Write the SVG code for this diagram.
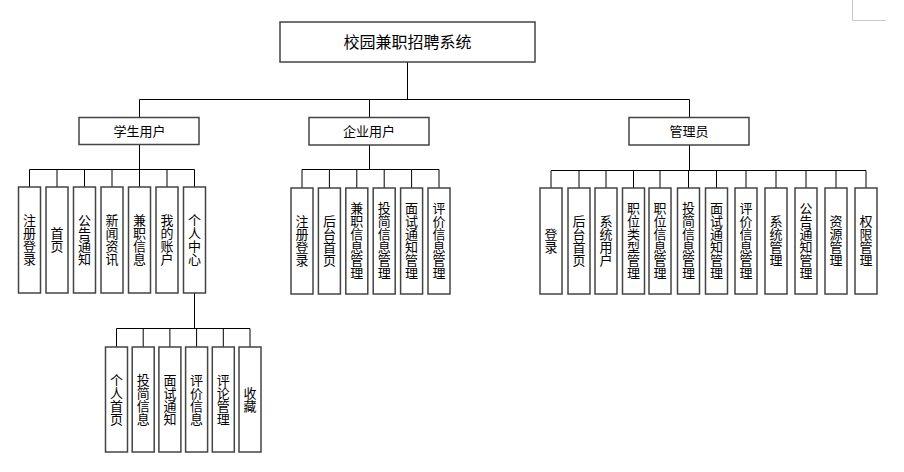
<svg xmlns="http://www.w3.org/2000/svg" width="904" height="472" viewBox="0 0 904 472">
<style>
.box{fill:#fff;stroke:#444;stroke-width:1.5}
.ln{fill:none;stroke:#000;stroke-width:1}
text{font-family:"Noto Sans CJK SC","Liberation Sans",sans-serif;fill:#000;text-anchor:middle}
.t{font-size:13px}
.v{font-size:13px;writing-mode:vertical-rl;text-orientation:upright}
.r{font-size:16px}
</style>
<rect width="904" height="472" fill="#fff"/>
<path d="M852.5 0V20.5H886" fill="none" stroke="#c8c8c8" stroke-width="1"/>
<g id="connectors" class="ln">
<path d="M407.5 62V99.5M139.5 99.5H689.5M139.5 99.5V117M369.5 99.5V117M689.5 99.5V117"/>
<path d="M139.5 144V169.5M29.5 169.5H194.5M29.5 169.5V187M57 169.5V187M84.5 169.5V187M112 169.5V187M139.5 169.5V187M167 169.5V187M194.5 169.5V187"/>
<path d="M194.5 293V328.5M116.5 328.5H250M116.5 328.5V347M143.2 328.5V347M169.9 328.5V347M196.6 328.5V347M223.3 328.5V347M250 328.5V347"/>
<path d="M369.5 145V169.5M302 169.5H439M302 169.5V188M329.4 169.5V188M356.8 169.5V188M384.2 169.5V188M411.6 169.5V188M439 169.5V188"/>
<path d="M689.5 145V170.5M551 170.5H866M551 170.5V188M579 170.5V188M606 170.5V188M633.5 170.5V188M660 170.5V188M688.5 170.5V188M716.5 170.5V188M746 170.5V188M776 170.5V188M806 170.5V188M836 170.5V188M866 170.5V188"/>
</g>
<g id="root"><rect class="box" x="280" y="22" width="255" height="40"/><text class="r" x="407.5" y="48">校园兼职招聘系统</text></g>
<g id="student"><rect class="box" x="79" y="117.5" width="120" height="27"/><text class="t" x="139.5" y="135.5">学生用户</text></g>
<g id="company"><rect class="box" x="309" y="117.5" width="120" height="27.5"/><text class="t" x="369" y="135.5">企业用户</text></g>
<g id="admin"><rect class="box" x="629" y="117.5" width="120" height="27.5"/><text class="t" x="689" y="135.5">管理员</text></g>

<g id="s1"><rect class="box" x="18.5" y="187" width="22" height="106"/><text class="v" x="29.5" y="240">注册登录</text></g>
<g id="s2"><rect class="box" x="46" y="187" width="22" height="106"/><text class="v" x="57" y="240">首页</text></g>
<g id="s3"><rect class="box" x="73.5" y="187" width="22" height="106"/><text class="v" x="84.5" y="240">公告通知</text></g>
<g id="s4"><rect class="box" x="101" y="187" width="22" height="106"/><text class="v" x="112" y="240">新闻资讯</text></g>
<g id="s5"><rect class="box" x="128.5" y="187" width="22" height="106"/><text class="v" x="139.5" y="240">兼职信息</text></g>
<g id="s6"><rect class="box" x="156" y="187" width="22" height="106"/><text class="v" x="167" y="240">我的账户</text></g>
<g id="s7"><rect class="box" x="183.5" y="187" width="22" height="106"/><text class="v" x="194.5" y="240">个人中心</text></g>

<g id="p1"><rect class="box" x="105.5" y="347" width="22" height="105"/><text class="v" x="116.5" y="399.5">个人首页</text></g>
<g id="p2"><rect class="box" x="132.2" y="347" width="22" height="105"/><text class="v" x="143.2" y="399.5">投简信息</text></g>
<g id="p3"><rect class="box" x="158.9" y="347" width="22" height="105"/><text class="v" x="169.9" y="399.5">面试通知</text></g>
<g id="p4"><rect class="box" x="185.6" y="347" width="22" height="105"/><text class="v" x="196.6" y="399.5">评价信息</text></g>
<g id="p5"><rect class="box" x="212.3" y="347" width="22" height="105"/><text class="v" x="223.3" y="399.5">评论管理</text></g>
<g id="p6"><rect class="box" x="239" y="347" width="22" height="105"/><text class="v" x="250" y="399.5">收藏</text></g>

<g id="c1"><rect class="box" x="291" y="188" width="22" height="106"/><text class="v" x="302" y="241">注册登录</text></g>
<g id="c2"><rect class="box" x="318.4" y="188" width="22" height="106"/><text class="v" x="329.4" y="241">后台首页</text></g>
<g id="c3"><rect class="box" x="345.8" y="188" width="22" height="106"/><text class="v" x="356.8" y="241">兼职信息管理</text></g>
<g id="c4"><rect class="box" x="373.2" y="188" width="22" height="106"/><text class="v" x="384.2" y="241">投简信息管理</text></g>
<g id="c5"><rect class="box" x="400.6" y="188" width="22" height="106"/><text class="v" x="411.6" y="241">面试通知管理</text></g>
<g id="c6"><rect class="box" x="428" y="188" width="22" height="106"/><text class="v" x="439" y="241">评价信息管理</text></g>

<g id="a1"><rect class="box" x="540" y="188" width="22" height="106"/><text class="v" x="551" y="241">登录</text></g>
<g id="a2"><rect class="box" x="568" y="188" width="22" height="106"/><text class="v" x="579" y="241">后台首页</text></g>
<g id="a3"><rect class="box" x="595" y="188" width="22" height="106"/><text class="v" x="606" y="241">系统用户</text></g>
<g id="a4"><rect class="box" x="622.5" y="188" width="22" height="106"/><text class="v" x="633.5" y="241">职位类型管理</text></g>
<g id="a5"><rect class="box" x="649" y="188" width="22" height="106"/><text class="v" x="660" y="241">职位信息管理</text></g>
<g id="a6"><rect class="box" x="677.5" y="188" width="22" height="106"/><text class="v" x="688.5" y="241">投简信息管理</text></g>
<g id="a7"><rect class="box" x="705.5" y="188" width="22" height="106"/><text class="v" x="716.5" y="241">面试通知管理</text></g>
<g id="a8"><rect class="box" x="735" y="188" width="22" height="106"/><text class="v" x="746" y="241">评价信息管理</text></g>
<g id="a9"><rect class="box" x="765" y="188" width="22" height="106"/><text class="v" x="776" y="241">系统管理</text></g>
<g id="a10"><rect class="box" x="795" y="188" width="22" height="106"/><text class="v" x="806" y="241">公告通知管理</text></g>
<g id="a11"><rect class="box" x="825" y="188" width="22" height="106"/><text class="v" x="836" y="241">资源管理</text></g>
<g id="a12"><rect class="box" x="855" y="188" width="22" height="106"/><text class="v" x="866" y="241">权限管理</text></g>
</svg>
